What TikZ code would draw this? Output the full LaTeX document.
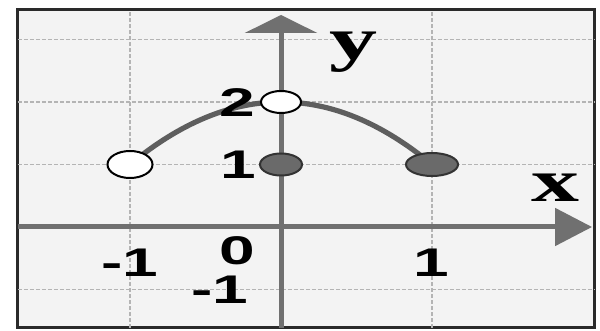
\documentclass[tikz,border=0pt]{standalone}
\usepackage{fontspec}
\setmainfont{Liberation Sans}
\newfontfamily\serifb{Liberation Serif}
\usetikzlibrary{arrows.meta,shapes.geometric}
\definecolor{bgin}{HTML}{F3F3F3}
\definecolor{axisgray}{HTML}{707070}
\definecolor{gridgray}{HTML}{B4B4B4}
\definecolor{curvegray}{HTML}{5E5E5E}
\definecolor{dotfill}{HTML}{6A6A6A}
\definecolor{framec}{HTML}{2A2A2A}
\begin{document}
\begin{tikzpicture}[x=75.5pt,y=31.25pt,
  gridline/.style={gridgray, line width=0.6pt, dash pattern=on 2pt off 1pt},
  axisline/.style={axisgray, line width=2.5pt},
  numlabel/.style={font=\fontsize{20}{24}\selectfont\bfseries, xscale=1.6, inner sep=0pt},
  varlabel/.style={font=\serifb\fontsize{30}{34}\selectfont\bfseries, xscale=1.6, inner sep=0pt},
  openpt/.style={ellipse, draw=black, fill=white, line width=1pt, inner sep=0pt},
  fullpt/.style={ellipse, draw=black!80, fill=dotfill, line width=1pt, inner sep=0pt},
  curveline/.style={curvegray, line width=2.6pt}]
\useasboundingbox (-1.861,-1.664) rectangle (2.1126,3.632);
\fill[white] (-1.861,-1.664) rectangle (2.1126,3.632);
\draw[framec, line width=1.5pt, fill=bgin] (-1.742,-1.616) rectangle (2.079,3.472);
% grid
\foreach \yy in {3,2,1,-1} \draw[gridline] (-1.742,\yy) -- (2.079,\yy);
\foreach \xx in {-1,1} \draw[gridline] (\xx,-1.616) -- (\xx,3.472);
% axes
\coordinate (xs) at (-1.742,0);
\coordinate (xe) at (2.06,0);
\coordinate (ys) at (0,-1.616);
\coordinate (ye) at (0,3.392);
\draw[axisline, -{Triangle[length=18.5pt,width=18.5pt]}] (xs) -- (xe);
\draw[axisline, -{Triangle[length=9pt,width=36pt]}] (ys) -- (ye);
% curve
\coordinate (a1) at (-1,1);
\coordinate (a2) at (0,2);
\coordinate (a4) at (1,1);
\draw[curveline] (a1) .. controls (-2/3,5/3) and (-1/3,2) .. (a2) .. controls (1/3,2) and (2/3,5/3) .. (a4);
% points
\node[openpt, minimum width=22.5pt, minimum height=13.5pt] (p1) at (a1) {};
\node[openpt, minimum width=20pt, minimum height=11pt] (p2) at (a2) {};
\node[fullpt, minimum width=21pt, minimum height=11pt] (p3) at (0,1) {};
\node[fullpt, minimum width=26pt, minimum height=11.5pt] (p4) at (a4) {};
% labels
\node[varlabel] (ly) at (0.477,2.8) {y};
\node[varlabel] (lx) at (1.815,0.624) {x};
\node[numlabel] (l2) at (-0.291,1.984) {2};
\node[numlabel] (l1) at (-0.285,1.0) {1};
\node[numlabel] (l0) at (-0.291,-0.384) {0};
\node[numlabel] (lm1) at (-1.0,-0.576) {-1};
\node[numlabel] (lm1b) at (-0.404,-1.008) {-1};
\node[numlabel] (lp1) at (0.993,-0.576) {1};
\end{tikzpicture}
\end{document}
